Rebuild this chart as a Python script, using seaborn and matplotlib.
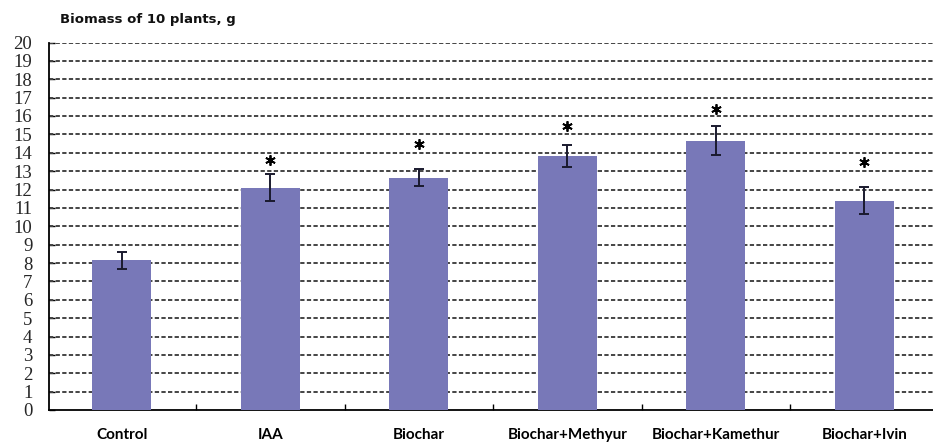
import matplotlib
matplotlib.use("Agg")
import matplotlib.pyplot as plt
import seaborn as sns
import pandas as pd

# Treatments and measured biomass (g per 10 plants) with standard errors
treatments = ["Control", "IAA", "Biochar", "Biochar+Methyur", "Biochar+Kamethur", "Biochar+Ivin"]
biomass = [8.15, 12.1, 12.65, 13.8, 14.65, 11.4]
errors = [0.45, 0.72, 0.47, 0.6, 0.78, 0.72]
# Height of the significance asterisk above each bar (None = not significant)
star_height = [None, 13.6, 14.45, 15.45, 16.36, 13.5]
y_ticks = list(range(0, 21))

df = pd.DataFrame({"treatment": treatments, "biomass": biomass})

sns.set_theme(style="white")
fig = plt.figure(figsize=(9.33, 4.46), dpi=100)
ax = fig.add_axes([49 / 933, 36 / 446, 1 - 49 / 933, (410 - 42.5) / 446])

bar_color = "#7878B8"
sns.barplot(data=df, x="treatment", y="biomass", color=bar_color, width=0.4,
            errorbar=None, saturation=1, ax=ax, zorder=3, edgecolor="none")
ax.errorbar(range(len(treatments)), biomass, yerr=errors, fmt="none",
            ecolor="#1a1a2e", elinewidth=1.4, capsize=3.5, capthick=1.4, zorder=4)

for i, h in enumerate(star_height):
    if h is not None:
        ax.plot(i, h, marker=(6, 2, 0), markersize=7.5, color="black",
                markeredgewidth=1.3, zorder=5)

ax.set_xlim(-0.49, -0.49 + (933 - 49) / 148.5)
ax.set_ylim(0, 20)
ax.set_yticks(y_ticks)
ax.set_yticklabels([str(t) for t in y_ticks], fontfamily="Liberation Serif", fontsize=13.5)

# Dashed horizontal gridlines at every unit
for t in y_ticks[1:]:
    ax.axhline(t, color="#444444", linestyle=(0, (2.2, 1.2)), linewidth=1.4, zorder=1)

ax.set_xlabel("")
ax.set_ylabel("")
ax.set_xticks(range(len(treatments)))
ax.set_xticklabels(treatments, fontweight="bold", fontsize=11, fontfamily="Lato")
ax.set_xticks([0.5, 1.5, 2.5, 3.5, 4.5], minor=True)
ax.tick_params(axis="x", which="major", length=0, pad=13, colors="black")
ax.tick_params(axis="x", which="minor", direction="in", length=4, width=1, color="black", bottom=True)
ax.tick_params(axis="y", direction="in", length=4, width=1, color="black", left=True, pad=12)

for side in ["top", "right"]:
    ax.spines[side].set_visible(False)
for side in ["left", "bottom"]:
    ax.spines[side].set_color("black")
    ax.spines[side].set_linewidth(1.3)

fig.text(60 / 933, 1 - 20 / 446, "Biomass of 10 plants, g", fontsize=9.5,
         fontweight="bold", ha="left", va="center", color="#111111")

fig.savefig("out.png", dpi=100)
